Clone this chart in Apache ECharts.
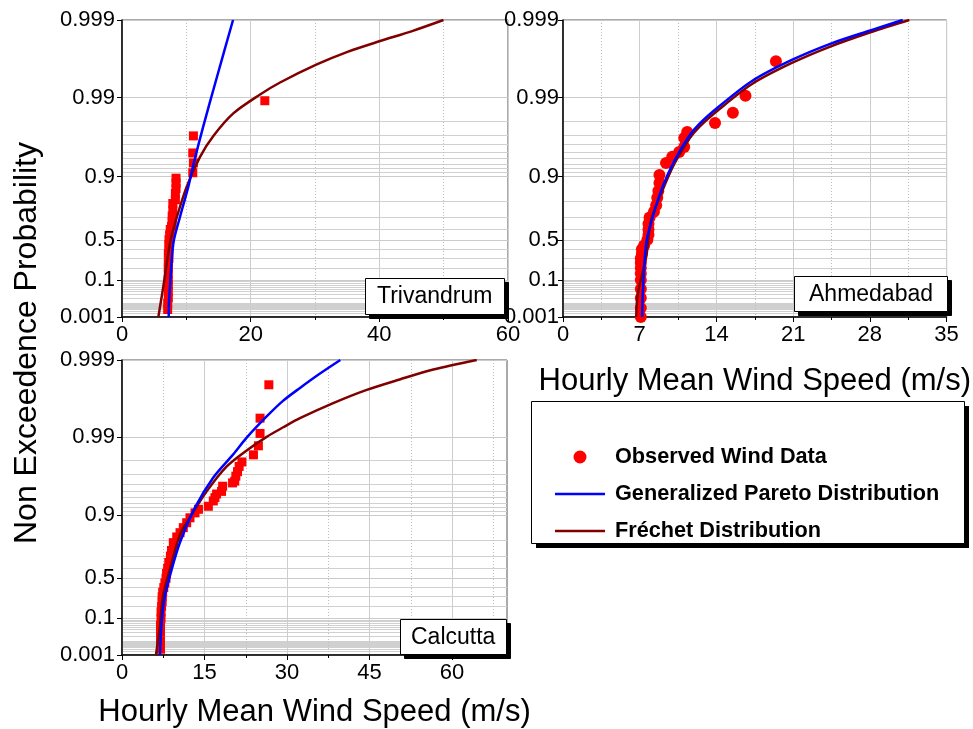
<!DOCTYPE html>
<html>
<head>
<meta charset="utf-8">
<script src="https://cdn.jsdelivr.net/npm/echarts@6/dist/echarts.min.js"></script>
<style>
  html, body { margin: 0; padding: 0; background: #fff; }
  #chart { width: 973px; height: 729px; }
</style>
</head>
<body>
<div id="chart"></div>
<script>
// probability paper (Gumbel reduced variate)
const probTicks = [0.001, 0.1, 0.5, 0.9, 0.99, 0.999];
const probTickLabels = ["0.001", "0.1", "0.5", "0.9", "0.99", "0.999"];
const probMinor = [
  0.002, 0.003, 0.004, 0.005, 0.006, 0.007, 0.008, 0.009,
  0.01, 0.02, 0.03, 0.04, 0.05, 0.06, 0.07, 0.08, 0.09,
  0.2, 0.3, 0.4, 0.6, 0.7, 0.8,
  0.91, 0.92, 0.93, 0.94, 0.95, 0.96, 0.97, 0.98
];

const stations = ["Trivandrum", "Ahmedabad", "Calcutta"];
const seriesNames = ["Observed Wind Data", "Generalized Pareto Distribution", "Fréchet Distribution"];

// wind speed axes
const trvSpeedTicks = [0, 20, 40, 60];
const trvSpeedMinor = [10, 30, 50];
const ahmSpeedTicks = [0, 7, 14, 21, 28, 35];
const ahmSpeedMinor = [3.5, 10.5, 17.5, 24.5, 31.5];
const calSpeedTicks = [0, 15, 30, 45, 60];
const calSpeedMinor = [7.5, 22.5, 37.5, 52.5, 67.5];
const speedMax = [60, 35, 70];

// Trivandrum  [speed, non exceedence probability]
const trvObserved = [
  [7.1, 0.004], [7.1, 0.01], [7.2, 0.02], [7.2, 0.04], [7.2, 0.07], [7.2, 0.1],
  [7.2, 0.15], [7.2, 0.2], [7.2, 0.25], [7.3, 0.3], [7.2, 0.35], [7.3, 0.4],
  [7.3, 0.45], [7.3, 0.5], [7.4, 0.55], [7.5, 0.6], [7.7, 0.63], [7.8, 0.67],
  [7.8, 0.71], [7.9, 0.75], [7.9, 0.79], [8.3, 0.81], [8.3, 0.84], [8.4, 0.86],
  [8.4, 0.88], [8.4, 0.895], [11.0, 0.91], [11.1, 0.932], [11.0, 0.949],
  [11.1, 0.969], [22.2, 0.989]
];
const trvPareto = [
  [7.26, 0.001], [7.3, 0.01], [7.46, 0.061], [7.98, 0.463], [9.02, 0.705],
  [10.31, 0.867], [11.09, 0.928], [12.6, 0.976], [14.77, 0.9946], [17.26, 0.999]
];
const trvFrechet = [
  [5.65, 0.001], [6.42, 0.061], [7.46, 0.463], [8.24, 0.654], [10.06, 0.867],
  [12.13, 0.943], [14.2, 0.9689], [17.3, 0.984], [21.46, 0.99085], [24.57, 0.99359],
  [30.28, 0.99625], [35.15, 0.99744], [40.12, 0.99813], [45.1, 0.99861], [49.97, 0.999]
];

// Ahmedabad
const ahmObserved = [
  [7.1, 0.001], [7.1, 0.005], [7.1, 0.02], [7.1, 0.05], [7.1, 0.1], [7.1, 0.15],
  [7.1, 0.2], [7.1, 0.25], [7.1, 0.3], [7.2, 0.35], [7.2, 0.4], [7.4, 0.44],
  [7.7, 0.5], [7.8, 0.55], [7.8, 0.6], [7.8, 0.65], [7.9, 0.7], [8.3, 0.74],
  [8.5, 0.78], [8.6, 0.82], [8.7, 0.85], [8.8, 0.88], [8.8, 0.904], [9.4, 0.932],
  [9.97, 0.943], [10.6, 0.9505], [11.06, 0.957], [11.06, 0.967], [11.33, 0.9724],
  [13.87, 0.9788], [15.5, 0.9843], [16.65, 0.9905], [19.43, 0.99659]
];
const ahmPareto = [
  [7.22, 0.001], [7.28, 0.033], [7.59, 0.463], [8.19, 0.705], [9.09, 0.867],
  [10.15, 0.9357], [11.51, 0.9689], [12.42, 0.9781], [14.23, 0.98696], [17.25, 0.99388],
  [20.88, 0.99672], [24.5, 0.998], [28.13, 0.99865], [31.0, 0.999]
];
const ahmFrechet = [
  [6.68, 0.001], [6.83, 0.033], [7.59, 0.317], [8.04, 0.68], [9.09, 0.854],
  [10.15, 0.93], [11.51, 0.966], [12.42, 0.9761], [14.23, 0.98575], [17.25, 0.9933],
  [20.88, 0.99641], [24.5, 0.99783], [28.13, 0.99857], [31.6, 0.999]
];

// Calcutta
const calObserved = [
  [7.0, 0.003], [7.0, 0.01], [7.0, 0.03], [7.0, 0.06], [7.1, 0.1], [7.1, 0.15],
  [7.2, 0.2], [7.3, 0.25], [7.3, 0.3], [7.4, 0.35], [7.6, 0.4], [7.8, 0.45],
  [8.0, 0.5], [8.1, 0.55], [8.3, 0.6], [8.5, 0.65], [8.8, 0.7], [9.0, 0.74],
  [9.33, 0.788], [9.95, 0.818], [10.55, 0.838], [11.15, 0.859], [11.76, 0.877],
  [12.36, 0.893], [13.27, 0.907], [13.9, 0.916], [15.7, 0.923], [16.6, 0.934],
  [16.9, 0.94], [17.2, 0.946], [18.1, 0.95], [18.3, 0.957], [20.1, 0.961],
  [20.5, 0.963], [20.7, 0.968], [21.0, 0.972], [21.3, 0.976], [21.8, 0.979],
  [23.9, 0.983], [24.8, 0.987], [25.1, 0.991], [25.1, 0.9943], [26.7, 0.9979]
];
const calPareto = [
  [6.9, 0.001], [7.22, 0.0765], [7.82, 0.31], [9.04, 0.59], [10.55, 0.79],
  [13.27, 0.92], [16.6, 0.9667], [20.18, 0.9831], [22.67, 0.9898], [26.3, 0.99458],
  [29.27, 0.9966], [32.36, 0.99769], [36.0, 0.9985], [39.7, 0.999]
];
const calFrechet = [
  [6.18, 0.001], [6.9, 0.0567], [7.45, 0.31], [8.73, 0.59], [10.55, 0.83],
  [12.36, 0.894], [15.4, 0.95], [19.04, 0.976], [22.67, 0.9851], [26.3, 0.99005],
  [29.33, 0.99252], [32.36, 0.99429], [38.4, 0.99636], [44.5, 0.99755], [50.5, 0.99821],
  [56.6, 0.99867], [64.5, 0.999]
];

const gumbel = (p) => -Math.log(-Math.log(p));
const toPaper = (arr) => arr.map(([s, p]) => [s, gumbel(p)]);

const FONT = "Liberation Sans";
const yMin = gumbel(0.001);
const yMax = gumbel(0.999);
const yTickVals = probTicks.map(gumbel);
const yMinorVals = probMinor.map(gumbel);

const grids = [
  { left: 122, top: 20, width: 386, height: 297 },
  { left: 563, top: 20, width: 386, height: 297 },
  { left: 122, top: 360, width: 385, height: 296 }
];
const speedTicks = [trvSpeedTicks, ahmSpeedTicks, calSpeedTicks];
const speedMinor = [trvSpeedMinor, ahmSpeedMinor, calSpeedMinor];
const labelMargin = [7, 4, 7];
const xNameGap = [null, 49, 42];

const xAxes = [];
const yAxes = [];
grids.forEach((g, i) => {
  xAxes.push({
    gridIndex: i, type: "value", min: 0, max: speedMax[i], position: "bottom",
    name: xNameGap[i] ? "Hourly Mean Wind Speed (m/s)" : "",
    nameLocation: "middle", nameGap: xNameGap[i] || 0,
    nameTextStyle: { fontFamily: FONT, fontSize: 31, color: "#000" },
    axisLine: { show: true, onZero: false, lineStyle: { color: "#000", width: 1.5 } },
    axisTick: { show: true, length: 5, customValues: speedTicks[i], lineStyle: { color: "#000" } },
    axisLabel: { customValues: speedTicks[i], fontFamily: FONT, fontSize: 22, color: "#000", margin: 7 },
    splitLine: { show: true, lineStyle: { color: "#cdcdcd", width: 1 } }
  });
  xAxes.push({
    gridIndex: i, type: "value", min: 0, max: speedMax[i], position: "bottom",
    axisLine: { show: false, onZero: false },
    axisTick: { show: true, length: 3, customValues: speedMinor[i], lineStyle: { color: "#000" } },
    axisLabel: { show: false },
    splitLine: { show: true, lineStyle: { color: "#bdbdbd", type: [1, 2], width: 1 } }
  });
  yAxes.push({
    gridIndex: i, type: "value", min: yMin, max: yMax, position: "left",
    axisLine: { show: true, onZero: false, lineStyle: { color: "#000", width: 1.5 } },
    axisTick: { show: true, length: 5, customValues: yTickVals, lineStyle: { color: "#000" } },
    axisLabel: {
      customValues: yTickVals, fontFamily: FONT, fontSize: 22, color: "#000", margin: labelMargin[i],
      formatter: (v) => {
        const k = yTickVals.findIndex((t) => Math.abs(t - v) < 1e-6);
        return k >= 0 ? probTickLabels[k] : "";
      }
    },
    splitLine: { show: true, lineStyle: { color: "#cbcbcb", width: 1 } }
  });
  yAxes.push({
    gridIndex: i, type: "value", min: yMin, max: yMax, position: "left",
    axisLine: { show: false, onZero: false },
    axisTick: { show: false, customValues: yMinorVals },
    axisLabel: { show: false },
    splitLine: { show: true, lineStyle: { color: "#d0d0d0", width: 1 } }
  });
});

const observed = [trvObserved, ahmObserved, calObserved];
const pareto = [trvPareto, ahmPareto, calPareto];
const frechet = [trvFrechet, ahmFrechet, calFrechet];
const obsSymbol = ["rect", "circle", "rect"];
const obsSize = [9, 12, 9];

const series = [];
grids.forEach((g, i) => {
  series.push({
    name: seriesNames[0], type: "scatter", xAxisIndex: 2 * i, yAxisIndex: 2 * i,
    symbol: obsSymbol[i], symbolSize: obsSize[i], z: 2,
    itemStyle: { color: "#ff0000", opacity: 1 },
    data: toPaper(observed[i])
  });
  series.push({
    name: seriesNames[1], type: "line", xAxisIndex: 2 * i, yAxisIndex: 2 * i,
    symbol: "none", smooth: 0.3, z: 4,
    lineStyle: { color: "#0000ff", width: 2.5 }, itemStyle: { color: "#0000ff" },
    data: toPaper(pareto[i])
  });
  series.push({
    name: seriesNames[2], type: "line", xAxisIndex: 2 * i, yAxisIndex: 2 * i,
    symbol: "none", smooth: 0.3, z: 3,
    lineStyle: { color: "#800000", width: 2.5 }, itemStyle: { color: "#800000" },
    data: toPaper(frechet[i])
  });
});

// station label boxes: a black copy behind each one acts as the drop shadow
const stationText = { fontFamily: FONT, fontSize: 23, fontWeight: "normal", color: "#000" };
const stationBoxes = [
  { left: 365, top: 278, padding: [7, 12, 7, 12] },
  { left: 794, top: 276, padding: [7, 15, 6, 15] },
  { left: 400, top: 619, padding: [7, 11, 6, 11] }
];
const titles = [];
stationBoxes.forEach((b, i) => {
  titles.push({
    text: stations[i], left: b.left + 4, top: b.top + 4, padding: b.padding, z: 5,
    backgroundColor: "#000", borderColor: "#000", borderWidth: 1, textStyle: stationText
  });
});
stationBoxes.forEach((b, i) => {
  titles.push({
    text: stations[i], left: b.left, top: b.top, padding: b.padding, z: 6,
    backgroundColor: "#fff", borderColor: "#000", borderWidth: 1, textStyle: stationText
  });
});

const chart = echarts.init(document.getElementById("chart"), null, { renderer: "canvas" });
chart.setOption({
  animation: false,
  backgroundColor: "#fff",
  grid: grids.map((g) => Object.assign({ show: true, borderColor: "#555", borderWidth: 1, containLabel: false }, g)),
  xAxis: xAxes,
  yAxis: yAxes,
  title: titles,
  legend: {
    orient: "vertical", left: 555, top: 446, z: 10,
    padding: 0, itemGap: 15, itemWidth: 50, itemHeight: 13,
    selectedMode: false,
    textStyle: { fontFamily: FONT, fontSize: 21.7, fontWeight: "bold", color: "#000", padding: [0, 0, 0, 5] },
    data: [
      { name: seriesNames[0], icon: "circle" },
      { name: seriesNames[1], icon: "path://M0,0H50V2.5H0Z" },
      { name: seriesNames[2], icon: "path://M0,0H50V2.5H0Z" }
    ]
  },
  graphic: [
    {
      type: "rect", z: 8, silent: true,
      shape: { x: 536, y: 406, width: 433, height: 142 },
      style: { fill: "#000" }
    },
    {
      type: "rect", z: 9, silent: true,
      shape: { x: 531.5, y: 401.5, width: 433, height: 142 },
      style: { fill: "#fff", stroke: "#000", lineWidth: 1 }
    },
    {
      type: "text", x: 27, y: 343, rotation: Math.PI / 2,
      style: {
        text: "Non Exceedence Probability", font: "32px " + FONT,
        fill: "#000", align: "center", verticalAlign: "middle"
      }
    }
  ],
  series: series
});
</script>
</body>
</html>
